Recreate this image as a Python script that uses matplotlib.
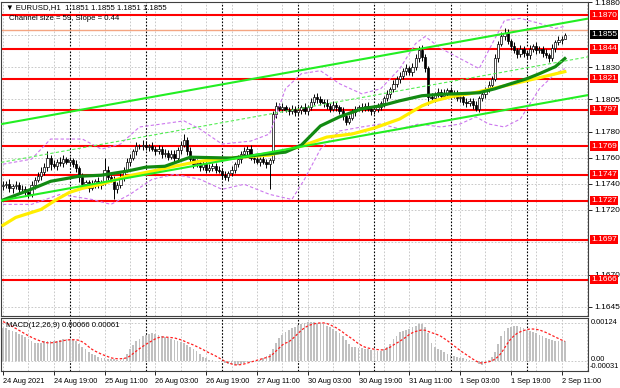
import numpy as np
import matplotlib.pyplot as plt
from matplotlib import font_manager
from matplotlib.transforms import blended_transform_factory

# fuente estrecha parecida a la de MT4
nombres = {f.name for f in font_manager.fontManager.ttflist}
fuente = 'Liberation Sans Narrow' if 'Liberation Sans Narrow' in nombres else 'Liberation Sans'
plt.rcParams['font.family'] = [fuente, 'DejaVu Sans']

BASE = 1.1700  # precios en pips sobre 1.1700

# velas H1 (cierre en pips), la apertura es el cierre anterior
apertura0 = 38
cierres = [39, 40, 37, 38, 39, 36, 36, 34, 32, 39,
           43, 46, 49, 53, 60, 55, 54, 57, 56, 59,
           57, 58, 55, 52, 45, 40, 41, 37, 40, 42,
           39, 41, 51, 45, 43, 36, 39, 45, 51, 57,
           60, 65, 69, 69, 70, 68, 69, 67, 65, 67,
           63, 64, 61, 63, 60, 66, 70, 74, 65, 59,
           55, 56, 53, 55, 51, 52, 54, 51, 50, 47,
           45, 48, 51, 55, 59, 63, 65, 67, 60, 59,
           57, 59, 57, 55, 58, 94, 100, 98, 99, 97,
           96, 98, 95, 97, 99, 96, 99, 103, 107, 105,
           103, 102, 100, 98, 101, 99, 96, 92, 88, 91,
           95, 98, 99, 98, 100, 98, 96, 98, 99, 102,
           106, 109, 113, 117, 121, 123, 127, 129, 126, 130,
           137, 143, 138, 129, 107, 106, 109, 111, 108, 110,
           112, 110, 109, 106, 107, 103, 102, 104, 101, 98,
           106, 109, 113, 116, 121, 137, 148, 154, 156, 150,
           146, 143, 140, 144, 141, 139, 144, 146, 143, 144,
           141, 139, 137, 145, 149, 151, 152, 155]
mecha_sup = [3, 2, 4, 2, 3, 2, 3, 2, 2, 3,
             2, 3, 4, 3, 5, 2, 3, 2, 4, 3,
             2, 3, 2, 3, 2, 3, 2, 2, 3, 2,
             3, 2, 9, 3, 2, 3, 2, 3, 2, 3,
             3, 2, 3, 2, 4, 3, 2, 3, 2, 3,
             2, 3, 2, 3, 3, 2, 3, 4, 2, 3,
             2, 3, 2, 3, 2, 3, 2, 2, 3, 2,
             3, 2, 3, 2, 3, 2, 3, 2, 3, 2,
             3, 2, 3, 2, 2, 2, 3, 2, 3, 2,
             2, 3, 2, 3, 2, 3, 2, 3, 2, 3,
             3, 2, 3, 2, 3, 2, 2, 3, 2, 2,
             3, 2, 2, 3, 2, 3, 2, 2, 3, 2,
             2, 3, 2, 3, 2, 3, 2, 3, 2, 3,
             3, 3, 4, 2, 2, 3, 2, 3, 2, 3,
             2, 3, 2, 3, 2, 2, 3, 2, 2, 3,
             2, 3, 2, 3, 2, 3, 2, 3, 4, 3,
             2, 3, 2, 3, 2, 2, 3, 2, 3, 2,
             2, 3, 2, 3, 2, 3, 2, 1]
mecha_inf = [3, 2, 3, 4, 2, 3, 2, 3, 3, 2,
             3, 2, 3, 2, 3, 4, 2, 3, 2, 3,
             2, 3, 2, 3, 4, 3, 2, 3, 2, 3,
             2, 3, 2, 3, 2, 8, 3, 2, 3, 2,
             3, 2, 3, 2, 3, 2, 3, 2, 3, 2,
             3, 2, 3, 2, 3, 2, 3, 2, 3, 2,
             3, 2, 3, 2, 3, 2, 2, 3, 2, 3,
             2, 3, 2, 3, 2, 3, 2, 3, 2, 3,
             2, 3, 2, 3, 19, 2, 3, 2, 3, 2,
             3, 2, 3, 2, 3, 2, 3, 2, 2, 3,
             2, 3, 2, 3, 2, 3, 2, 3, 3, 2,
             2, 3, 2, 3, 2, 2, 3, 2, 3, 2,
             3, 2, 3, 2, 2, 3, 2, 3, 2, 3,
             2, 3, 3, 3, 6, 2, 3, 2, 3, 2,
             3, 2, 3, 2, 3, 2, 3, 2, 3, 2,
             3, 2, 3, 2, 3, 2, 3, 2, 3, 2,
             3, 2, 3, 2, 3, 2, 3, 2, 3, 2,
             3, 2, 3, 2, 3, 2, 3, 0]

# medias moviles (barra, pips)
ma_verde_x = [0, 8, 15, 24, 31, 39, 45, 51, 59, 72, 83, 89, 94, 100, 106, 113,
              119, 125, 132, 138, 144, 150, 155, 160, 165, 169, 174, 177]
ma_verde_y = [27.5, 34.9, 41.9, 45.8, 46.6, 49.7, 52.8, 53.5, 60.5, 59.8, 62.9, 64.4,
              69.8, 84.6, 91.6, 97.8, 100.1, 104, 107.9, 109, 109.5, 110.2, 113.3,
              117.2, 121, 124.9, 130.3, 136.6]
ma_amarilla_x = [0, 4, 12, 17, 21, 25, 31, 39, 47, 54, 62, 75, 84, 94, 102, 110,
                 117, 125, 132, 136, 141, 147, 154, 165, 177]
ma_amarilla_y = [8, 14, 20.2, 28, 33.4, 36.5, 39.6, 45.8, 49.7, 53.5, 57.4, 60.5,
                 62.1, 69, 76, 78.4, 83, 90, 100.1, 104, 107.1, 109.4, 113.3, 119.5, 126.5]

# bandas (barra, pips)
banda_sup_x = [0, 9, 15, 25, 31, 37, 43, 50, 57, 62, 69, 78, 84, 89, 94, 100,
               106, 113, 119, 125, 130, 133, 138, 144, 150, 155, 158, 163, 169, 174, 177]
banda_sup_y = [55.1, 59.0, 74.5, 74.5, 66.7, 70.6, 83.8, 86.1, 88.5, 82.3, 70.6,
               72.9, 78.4, 113.3, 124.9, 127.2, 117.2, 109.4, 113.3, 128.8, 148.2,
               153.6, 144.3, 136.6, 128.8, 152.1, 166.0, 167.6, 163.7, 159.8, 161.4]
banda_inf_x = [0, 9, 18, 28, 34, 40, 47, 54, 62, 69, 76, 84, 91, 95, 100, 106,
               113, 119, 125, 131, 138, 144, 149, 153, 158, 163, 169, 174, 177]
banda_inf_y = [24.1, 24.1, 31.8, 27.9, 24.1, 31.8, 43.5, 47.3, 43.5, 35.7, 39.6,
               31.8, 27.9, 43.5, 66.7, 80.7, 83.8, 86.1, 82.3, 86.1, 83.8, 86.1,
               91.6, 86.1, 83.8, 90.0, 113.3, 124.9, 128.8]

# canal de regresion
canal_x = [-0.6, 184.3]
canal_sup = [1.17860, 1.18674]
canal_med = [1.17565, 1.18379]
canal_inf = [1.17270, 1.18084]

niveles = [1.1870, 1.1844, 1.1821, 1.1797, 1.1769, 1.1747, 1.1727, 1.1697, 1.1666]
precio_actual = 1.1855
precio_ask = 1.18583
ticks_precio = [1.1880, 1.1830, 1.1805, 1.1780, 1.1760, 1.1740, 1.1720, 1.1670, 1.1645]

# MACD (en 1e-5)
macd = [108, 106, 102, 98, 94, 89, 84, 78, 71, 64,
        60, 59, 60, 64, 66, 65, 64, 65, 68, 71,
        72, 73, 72, 66, 56, 46, 38, 30, 24, 18,
        12, 10, 8, 7, 7, 5, 4, 3, 10, 22,
        38, 52, 64, 72, 80, 85, 89, 91, 88, 84,
        80, 77, 74, 71, 68, 65, 62, 57, 52, 46,
        40, 33, 22, 14, 8, 4, 2, 1, 0, -2,
        -6, -9, -11, -13, -12, -10, -8, -5, -3, -1,
        1, 3, 8, 16, 24, 40, 60, 75, 86, 95,
        102, 107, 111, 116, 120, 124, 127, 127, 126, 124,
        123, 120, 115, 111, 105, 98, 91, 82, 69, 55,
        46, 44, 43, 42, 40, 38, 36, 35, 33, 33,
        38, 46, 55, 70, 82, 93, 97, 100, 104, 109,
        114, 120, 120, 110, 92, 60, 45, 38, 34, 30,
        24, 20, 16, 12, 10, 8, 5, 2, 0, -5,
        -10, -13, -8, 2, 12, 30, 55, 80, 98, 108,
        112, 114, 113, 111, 106, 101, 97, 94, 90, 86,
        80, 76, 72, 68, 65, 64, 65, 66]
senal = [128, 124, 118, 112, 106, 100, 94, 88, 82, 77,
         72, 68, 64, 61, 59, 59, 60, 62, 64, 66,
         68, 69, 69, 69, 67, 62, 55, 46, 38, 32,
         27, 22, 18, 14, 10, 8, 7, 7, 8, 10,
         16, 24, 32, 40, 47, 54, 60, 66, 72, 76,
         78, 78, 77, 76, 75, 72, 69, 65, 60, 56,
         52, 47, 42, 37, 31, 26, 21, 16, 10, 4,
         -2, -6, -10, -13, -13, -12, -10, -7, -4, -1,
         2, 5, 8, 11, 14, 22, 32, 42, 52, 58,
         62, 70, 80, 90, 100, 108, 114, 118, 121, 123,
         124, 124, 122, 118, 113, 108, 101, 94, 86, 79,
         72, 64, 56, 50, 45, 42, 40, 38, 37, 36,
         36, 40, 45, 52, 58, 64, 71, 78, 86, 92,
         96, 99, 101, 100, 96, 92, 89, 85, 80, 73,
         66, 58, 50, 42, 34, 27, 20, 13, 6, 0,
         -6, -7, -5, -3, 0, 6, 14, 26, 42, 58,
         72, 82, 90, 95, 99, 102, 104, 104, 103, 101,
         97, 93, 88, 83, 78, 73, 68, 64]

etiquetas_tiempo = ['24 Aug 2021', '24 Aug 19:00', '25 Aug 11:00', '26 Aug 03:00',
                    '26 Aug 19:00', '27 Aug 11:00', '30 Aug 03:00', '30 Aug 19:00',
                    '31 Aug 11:00', '1 Sep 03:00', '1 Sep 19:00', '2 Sep 11:00']
separadores_dia = [21, 45, 69, 93, 117, 141, 165]


def px(p):
    return BASE + np.array(p, dtype=float) / 1e4


W, H = 620, 388


def caja(x0, y0, x1, y1):
    return [x0 / W, 1 - y1 / H, (x1 - x0) / W, (y1 - y0) / H]


fig = plt.figure(figsize=(6.2, 3.88), dpi=100)
ax = fig.add_axes(caja(1, 2, 588, 316))
axm = fig.add_axes(caja(1, 318, 588, 371), sharex=ax)

c = px(cierres)
o = np.r_[px([apertura0]), c[:-1]]
hi = np.maximum(o, c) + np.array(mecha_sup) / 1e4
lo = np.minimum(o, c) - np.array(mecha_inf) / 1e4
idx = np.arange(len(c))

ax.set_xlim(-0.63, 184.3)
ax.set_ylim(1.16380, 1.18802)

fs = 5.6   # tamaño de letra base
fsp = 6.0  # etiquetas de precio

# rejilla
gris = '#c0c0c0'
for t in ticks_precio + [1.1855, 1.1695]:
    ax.axhline(t, color=gris, lw=0.6, ls=(0, (2, 2)), zorder=0)
for a in (ax, axm):
    for xv in range(0, 185, 8):
        a.axvline(xv, color=gris, lw=0.6, ls=(0, (2, 2)), zorder=0)
    for xv in separadores_dia:
        a.axvline(xv, color='black', lw=0.8, ls=(0, (1.5, 1.5)), zorder=1)

# niveles
for n in niveles:
    ax.axhline(n, color='red', lw=1.5, zorder=2)
ax.axhline(precio_ask, color='#f4a582', lw=1.0, zorder=2)

# velas
ax.vlines(idx, lo, hi, color='black', lw=0.7, zorder=3)
cuerpo = np.maximum(np.abs(c - o), 0.00003)
colores = np.where(c >= o, 'white', 'black')
ax.bar(idx, cuerpo, bottom=np.minimum(o, c), width=0.7, color=colores,
       edgecolor='black', linewidth=0.5, zorder=3)

# indicadores
ax.plot(banda_sup_x, px(banda_sup_y), color='#cc77ee', lw=0.8, ls=(0, (3, 2)), zorder=4)
ax.plot(banda_inf_x, px(banda_inf_y), color='#cc77ee', lw=0.8, ls=(0, (3, 2)), zorder=4)
ax.plot(ma_amarilla_x, px(ma_amarilla_y), color='#ffee00', lw=2.3, zorder=5)
ax.plot(ma_verde_x, px(ma_verde_y), color='#128a12', lw=2.3, zorder=5)
ax.plot(canal_x, canal_sup, color='#22ee22', lw=1.5, zorder=6)
ax.plot(canal_x, canal_inf, color='#22ee22', lw=1.5, zorder=6)
ax.plot(canal_x, canal_med, color='#55ee55', lw=0.8, ls=(0, (3, 2)), zorder=6)

# eje de precios a la derecha
ax.yaxis.tick_right()
ax.set_yticks(ticks_precio)
ax.set_yticklabels(['%.4f' % t for t in ticks_precio])
ax.tick_params(axis='y', labelsize=fsp, length=3, pad=1.5, width=0.6)
ax.tick_params(axis='x', bottom=False, labelbottom=False)
tr = blended_transform_factory(ax.transAxes, ax.transData)
for n in niveles:
    ax.text(1.005, n, '%.4f' % n, transform=tr, va='center', ha='left', fontsize=fsp,
            color='white', bbox=dict(boxstyle='square,pad=0.15', fc='red', ec='none'),
            clip_on=False, zorder=10)
ax.text(1.005, precio_actual, '%.4f' % precio_actual, transform=tr, va='center', ha='left',
        fontsize=fsp, color='white', bbox=dict(boxstyle='square,pad=0.15', fc='black', ec='none'),
        clip_on=False, zorder=11)

ax.text(0.008, 0.993, '\u25bc EURUSD,H1  1.1851 1.1855 1.1851 1.1855', transform=ax.transAxes,
        va='top', ha='left', fontsize=fs, zorder=12)
ax.text(0.013, 0.958, 'Channel size = 59, Slope = 0.44', transform=ax.transAxes,
        va='top', ha='left', fontsize=fs, zorder=12)

# MACD
m = np.array(macd) / 1e5
s = np.array(senal) / 1e5
axm.set_ylim(-0.00033, 0.00140)
axm.bar(idx, m, width=0.55, color='#c0c0c0', zorder=2)
axm.plot(idx, s, color='#ff2020', lw=0.9, ls=(0, (2, 1.5)), zorder=3)
axm.axhline(0.00124, color=gris, lw=0.6, ls=(0, (2, 2)), zorder=0)
axm.axhline(0.0, color=gris, lw=0.6, ls=(0, (2, 2)), zorder=0)
axm.text(0.008, 0.93, 'MACD(12,26,9) 0.00066 0.00061', transform=axm.transAxes,
         va='top', ha='left', fontsize=fs, zorder=12)
axm.set_yticks([])
trm = blended_transform_factory(axm.transAxes, axm.transData)
axm.text(1.004, 0.00124, '0.00124', transform=trm, va='center', ha='left', fontsize=5.3)
axm.text(1.004, 0.00005, '0.00', transform=trm, va='center', ha='left', fontsize=5.3)
axm.text(1.002, -0.00018, '-0.00031', transform=trm, va='center', ha='left', fontsize=5.3)

axm.set_xticks(range(0, 177, 16))
axm.set_xticklabels(etiquetas_tiempo)
axm.tick_params(axis='x', labelsize=5.3, length=3, pad=2, width=0.6)
for lbl in axm.get_xticklabels():
    lbl.set_ha('left')

for a in (ax, axm):
    for sp in a.spines.values():
        sp.set_color('#404040')
        sp.set_linewidth(0.8)

fig.savefig('out.png', dpi=100)
